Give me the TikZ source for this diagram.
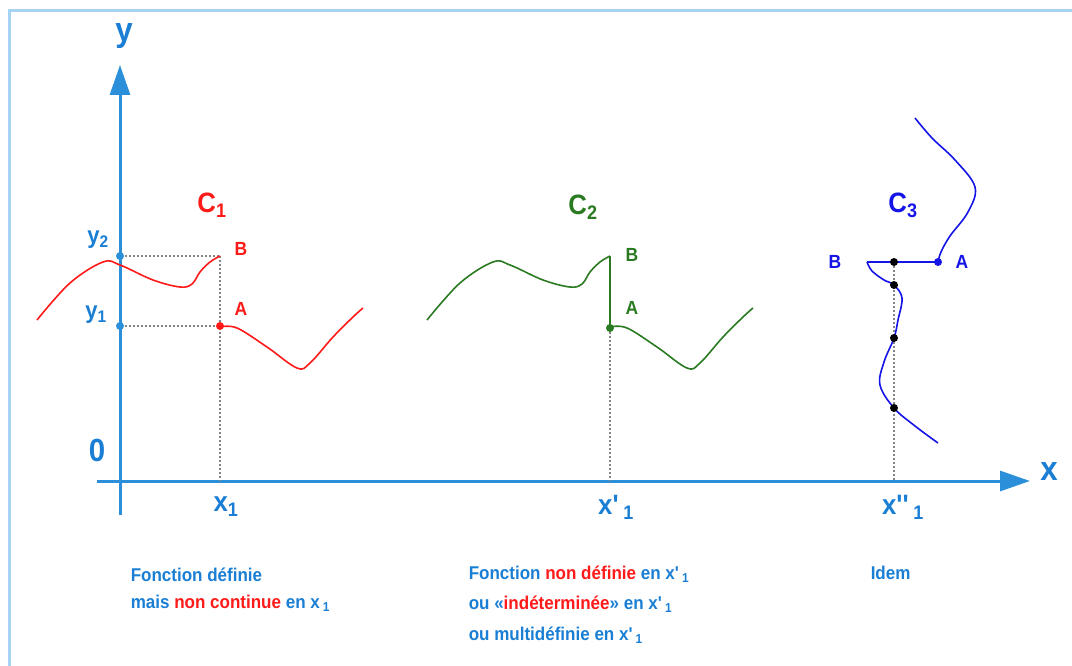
\documentclass[tikz,border=0pt]{standalone}
\usepackage{fontspec}
\newfontfamily\labfont{Liberation Sans}[FakeStretch=0.92]
\usetikzlibrary{arrows.meta}
\definecolor{cblue}{HTML}{1A7FD4}
\definecolor{caxis}{HTML}{2B8FD9}
\definecolor{cframe}{HTML}{A6D3F2}
\definecolor{cred}{HTML}{FF1A1A}
\definecolor{cgreen}{HTML}{2A7A22}
\definecolor{cdeep}{HTML}{1414E6}
\definecolor{cgrey}{HTML}{858585}
\newcommand{\fs}[2]{\labfont\bfseries\fontsize{#1}{#2}\selectfont}
\newcommand{\low}[1]{\,\textsubscript{#1}}
\tikzset{
  every picture/.style={font=\labfont\bfseries, line width=1.5pt},
  axis/.style={draw=caxis, line width=3pt, -{Triangle[length=30pt, width=20pt]}},
  frame/.style={draw=cframe, line width=3pt},
  guide/.style={draw=cgrey, line width=2pt, dash pattern=on 2pt off 2pt},
  curve/.style={draw=#1, line width=1.6pt},
  dot/.style={circle, fill=#1, inner sep=0pt, minimum size=8pt},
  lab/.style={text=#1, inner sep=0pt, font=\fs{28}{34}},
  pt/.style={text=#1, inner sep=0pt, font=\fs{19}{23}},
  note/.style={text=cblue, align=left, inner sep=0pt, anchor=north west, font=\fs{18.5}{27.5}},
}

\begin{document}
\begin{tikzpicture}[x=1pt, y=-1pt]
  \useasboundingbox (0,0) rectangle (1072,666);
  \draw[frame] (9,666) -- (9,11) -- (1072,11);
  % axes
  \coordinate (ybot) at (120,515);
  \coordinate (ytop) at (120,65);
  \coordinate (xleft) at (97,481);
  \coordinate (xright) at (1030,481);
  \draw[axis] (ybot) -- (ytop);
  \draw[axis] (xleft) -- (xright);
  \node[lab=cblue, font=\fs{34}{40}] (ylab) at (124,36) {y};
  \node[lab=cblue, font=\fs{34}{40}] (xlab) at (1049,472) {x};
  \node[lab=cblue, font=\fs{32}{38}] (zero) at (97,450) {0};
  % points on the curves
  \coordinate (B1) at (220,256);
  \coordinate (A1) at (220,326);
  \coordinate (B2) at (610,256);
  \coordinate (A2) at (610,328);
  \coordinate (A3) at (938,262);
  \coordinate (B3) at (867,262);
  \coordinate (M1) at (894,262);
  \coordinate (M2) at (894,285);
  \coordinate (M3) at (894,338);
  \coordinate (M4) at (894,408);
  \node[dot=caxis] (y2) at (120,256) {};
  \node[dot=caxis] (y1) at (120,326) {};
  % dotted guides
  \draw[guide] (y2) -- (B1);
  \draw[guide] (y1) -- (A1);
  \draw[guide] (B1) -- (B1 |- xleft);
  \draw[guide] (A2) -- (A2 |- xleft);
  \draw[guide] (M1) -- (M1 |- xleft);
  % C1 and C2: same wave, shifted
  \foreach \dx/\col in {0/cred, 390/cgreen} {
    \draw[curve=\col] plot[smooth, tension=0.6] coordinates {(37+\dx,320) (70+\dx,283) (103+\dx,262) (120+\dx,265) (153+\dx,280) (180+\dx,287) (192+\dx,284) (200+\dx,272) (210+\dx,262) (220+\dx,256)};
    \draw[curve=\col] plot[smooth, tension=0.6] coordinates {(220+\dx,327) (237+\dx,328) (267+\dx,347) (297+\dx,368) (310+\dx,363) (333+\dx,337) (353+\dx,317) (363+\dx,308)};
  }
  \draw[curve=cgreen] (B2) -- (A2);
  \node[dot=cred] (a1dot) at (A1) {};
  \node[dot=cgreen] (a2dot) at (A2) {};
  % C3
  \draw[curve=cdeep] plot[smooth, tension=0.6] coordinates {(915,118) (932,138) (955,160) (975,187) (968,212) (950,236) (941,252) (938,262)};
  \draw[curve=cdeep] (A3) -- (B3);
  \draw[curve=cdeep] plot[smooth, tension=0.6] coordinates {(867,262) (872,271) (884,280) (894,285) (902,298) (898,320) (894,338) (884,362) (880,385) (894,408) (915,426) (938,443)};
  \node[dot=cdeep] (a3dot) at (A3) {};
  \foreach \m in {M1, M2, M3, M4}
    \node[dot=black] at (\m) {};
  % labels
  \node[lab=cred] (c1) at (212,205) {C\textsubscript{1}};
  \node[lab=cgreen] (c2) at (583,207) {C\textsubscript{2}};
  \node[lab=cdeep] (c3) at (903,205) {C\textsubscript{3}};
  \node[pt=cred] (lb1) at (241,249) {B};
  \node[pt=cred] (la1) at (241,309) {A};
  \node[pt=cgreen] (lb2) at (632,255) {B};
  \node[pt=cgreen] (la2) at (632,308) {A};
  \node[pt=cdeep] (lb3) at (835,262) {B};
  \node[pt=cdeep] (la3) at (962,262) {A};
  \node[lab=cblue, font=\fs{24}{29}] (ly2) at (98,240) {y\textsubscript{2}};
  \node[lab=cblue, font=\fs{24}{29}] (ly1) at (96,315) {y\textsubscript{1}};
  \node[lab=cblue] (x1) at (226,507) {x\textsubscript{1}};
  \node[lab=cblue] (x1p) at (616,507) {x'\low{1}};
  \node[lab=cblue] (x1pp) at (903,507) {x''\low{1}};
  % comments below
  \node[note] (n1) at (130,567) {Fonction définie\\mais \textcolor{cred}{non continue} en x\low{1}};
  \node[note, font=\fs{18.5}{30.5}] (n2) at (468,565) {Fonction \textcolor{cred}{non définie} en x'\low{1}\\ou «\textcolor{cred}{indéterminée}» en x'\low{1}\\ou multidéfinie en x'\low{1}};
  \node[note] (n3) at (870,565) {Idem};
\end{tikzpicture}
\end{document}
